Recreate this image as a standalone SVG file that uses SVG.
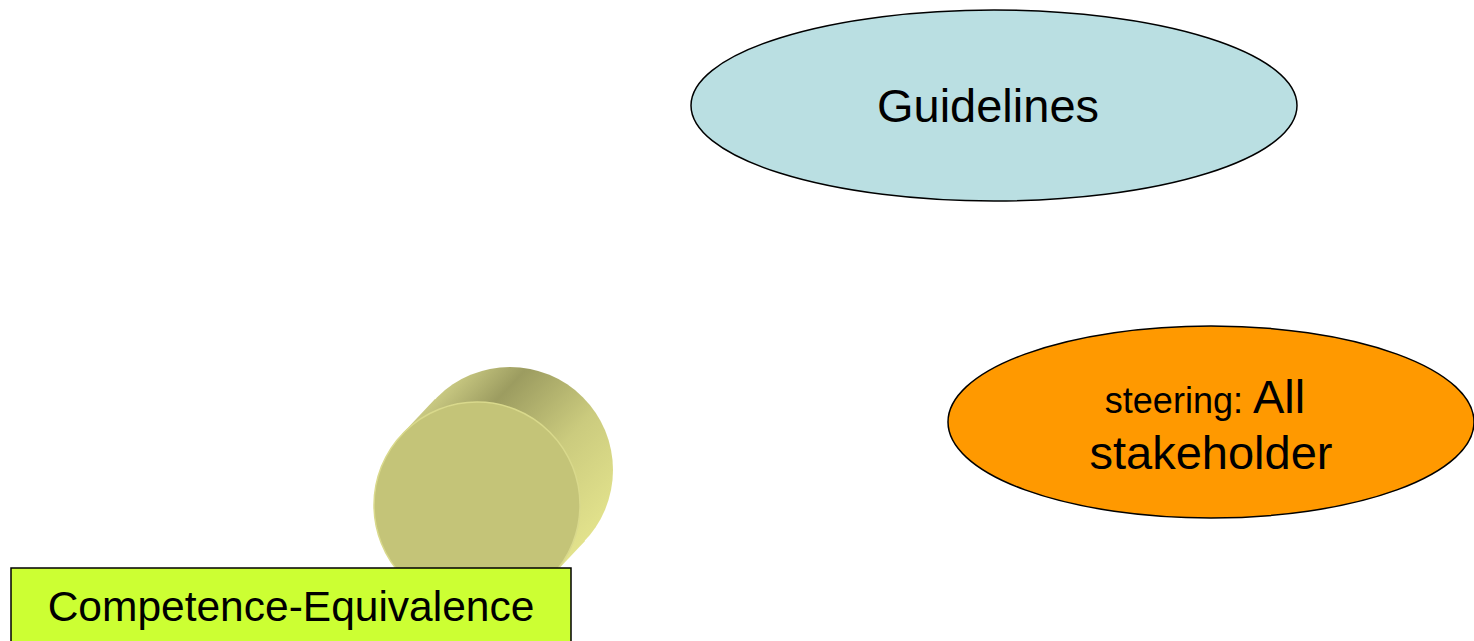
<svg xmlns="http://www.w3.org/2000/svg" width="1474" height="641" viewBox="0 0 1474 641">
<style>
text{font-family:"Liberation Sans",Arial,sans-serif;fill:#000;text-anchor:middle}
.node{stroke:#000;stroke-width:1.5}
</style>
<defs>
<linearGradient id="side" gradientUnits="userSpaceOnUse" x1="402" y1="434" x2="552" y2="576">
<stop offset="0" stop-color="#C9C982"/>
<stop offset="0.22" stop-color="#9C9C60"/>
<stop offset="0.6" stop-color="#CBCB7E"/>
<stop offset="1" stop-color="#E2E28C"/>
</linearGradient>
</defs>
<g id="guidelines">
<ellipse class="node" cx="994" cy="105.5" rx="303" ry="95.5" fill="#BADFE2"/>
<text x="988" y="122" font-size="47">Guidelines</text>
</g>
<g id="steering">
<ellipse class="node" cx="1211" cy="422" rx="263" ry="96" fill="#FF9900"/>
<text x="1205" y="413" font-size="47"><tspan font-size="36">steering: </tspan>All</text>
<text x="1211" y="469" font-size="47">stakeholder</text>
</g>
<g id="cylinder">
<circle cx="510" cy="470" r="103" fill="url(#side)"/>
<polygon points="402,434 435,399 585,541 552,576" fill="url(#side)"/>
<circle cx="477" cy="505" r="103" fill="#C4C478" stroke="#D9D98C" stroke-width="1.5"/>
</g>
<g id="competence">
<rect class="node" x="11" y="568" width="560" height="80" fill="#CCFF33"/>
<text x="291" y="621" font-size="42.5">Competence-Equivalence</text>
</g>
<g id="connectors"></g>
</svg>
